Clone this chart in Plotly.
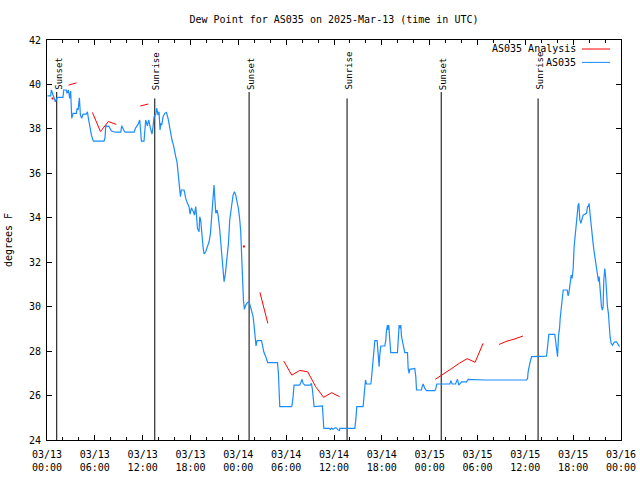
import pandas as pd
import plotly.graph_objects as go

BASE = pd.Timestamp("2025-03-13 00:00")

# ---- AS035 observed dew point (hours since 03/13 00:00 UTC, deg F)
blue_hours = [0.05,0.46,0.55,0.75,1.05,1.22,1.38,2.0,2.1,2.43,2.5,2.68,2.85,2.97,3.1,3.27,3.69,3.77,3.9,4.06,
 4.19,4.35,4.52,4.94,5.07,5.19,5.36,5.57,5.82,7.15,7.28,7.37,7.53,7.74,8.08,8.58,9.25,9.37,9.62,9.79,
 10.92,11.09,11.42,11.63,11.72,11.84,12.17,12.26,12.38,12.59,12.76,12.97,13.17,13.3,13.43,13.64,13.76,13.93,14.05,14.18,
 14.27,14.39,14.56,14.77,14.98,15.18,15.31,15.52,15.68,15.86,16.02,16.15,16.31,16.44,16.61,16.74,16.86,17.19,17.28,17.4,
 17.62,17.82,17.94,18.12,18.24,18.37,18.49,18.66,18.75,18.87,19.07,19.16,19.28,19.45,19.57,19.7,19.91,20.12,20.33,20.5,
 20.67,20.83,20.95,21.04,21.17,21.33,21.46,21.67,21.79,22.0,22.08,22.21,22.38,22.58,22.76,22.92,23.14,23.34,23.51,23.68,
 23.84,24.01,24.18,24.3,24.43,24.51,24.64,24.76,24.93,25.14,25.35,25.47,25.68,25.85,25.97,26.15,26.22,26.35,26.78,26.9,
 27.03,27.19,27.44,27.69,28.91,29.03,29.11,29.2,30.66,30.74,30.87,30.99,31.71,31.83,32.0,32.12,32.33,33.05,33.17,33.3,
 33.38,33.5,34.55,34.63,34.72,35.38,35.56,35.68,35.88,36.14,36.31,36.51,36.69,36.73,38.61,38.73,38.86,39.65,39.77,39.86,
 39.95,40.07,40.62,40.7,40.78,40.9,41.03,41.12,41.41,41.53,41.66,41.74,41.87,42.37,42.5,42.58,42.71,42.79,42.87,43.0,
 43.12,43.96,44.04,44.17,44.29,44.38,44.47,44.67,44.88,45.22,45.3,45.42,45.51,46.13,46.26,46.35,46.98,47.05,47.18,47.39,
 47.6,48.65,48.77,48.9,50.53,50.65,50.82,51.24,51.37,51.49,51.66,51.82,52.0,52.62,52.82,54.88,56.17,56.39,56.8,57.01,
 60.15,60.28,60.35,60.56,60.78,62.66,62.79,62.95,63.7,63.83,63.95,64.04,64.17,64.29,64.37,64.54,64.67,64.75,65.25,65.37,
 65.5,65.62,65.75,65.87,66.0,66.12,66.3,66.42,66.5,66.62,66.71,66.84,66.96,67.09,67.25,67.67,67.8,67.92,68.0,68.09,
 68.21,68.34,68.5,68.63,68.76,68.93,69.05,69.18,69.26,69.34,69.42,69.55,69.67,69.76,69.84,69.97,70.09,70.17,70.3,70.42,
 70.5,70.63,70.76,70.93,71.1,71.22,71.43,71.56,71.68,71.81]
blue_dew = [39.49,39.49,39.75,39.57,39.22,39.37,39.42,39.42,39.75,39.75,39.6,39.75,39.37,39.7,38.48,38.7,38.7,38.93,38.85,39.4,
 38.62,38.48,38.66,38.66,38.77,38.48,38.1,37.72,37.45,37.45,37.6,38.17,38.1,38.12,37.9,37.85,37.85,38.14,37.95,37.85,
 37.85,38.03,38.2,38.4,38.03,37.45,37.45,38.03,38.4,38.14,38.4,38.03,37.76,38.1,38.55,38.66,38.93,38.62,38.77,37.95,
 38.25,38.17,38.55,38.7,38.74,38.48,38.17,37.72,37.5,37.27,37.05,36.75,36.5,36.07,35.25,34.95,35.25,35.25,35.1,34.87,
 34.65,34.5,34.16,34.45,34.35,34.27,34.12,34.5,34.12,33.52,33.37,34.05,33.9,33.0,32.7,32.37,32.47,32.7,32.92,33.3,
 34.05,35.1,35.47,34.95,34.2,34.35,34.12,33.45,32.85,31.95,31.35,31.12,31.5,32.1,32.85,33.9,34.57,35.02,35.17,35.02,
 34.72,34.42,33.9,33.37,32.17,31.2,30.3,29.88,30.07,30.18,30.22,30.07,29.77,29.55,29.17,28.5,28.23,28.47,28.46,28.47,
 28.27,27.97,27.75,27.48,27.48,27.0,26.25,25.5,25.5,25.57,25.95,26.47,26.47,26.55,26.73,26.55,26.47,26.47,26.55,26.25,
 25.95,25.5,25.53,24.97,24.52,24.52,24.48,24.54,24.48,24.55,24.54,24.45,24.43,24.52,24.52,24.9,25.5,25.5,26.02,26.43,
 26.7,26.52,26.52,26.77,27.15,27.82,28.23,28.47,28.47,27.82,27.3,27.82,28.23,28.23,28.5,28.92,29.17,28.95,29.17,28.5,
 27.93,27.93,28.65,29.17,29.02,29.17,28.65,28.27,27.93,27.93,27.22,27.0,27.18,27.22,26.85,26.25,26.25,26.4,26.52,26.32,
 26.22,26.22,26.32,26.52,26.52,26.67,26.52,26.52,26.67,26.73,26.47,26.55,26.62,26.62,26.73,26.7,26.7,26.73,26.73,26.7,
 26.7,26.77,27.07,27.45,27.75,27.77,28.2,28.75,28.75,28.42,27.97,27.75,28.72,29.02,29.47,30.0,30.52,30.75,30.75,30.48,
 30.7,31.2,31.42,31.27,31.72,32.7,33.45,33.97,34.32,34.57,34.65,33.9,33.75,33.97,34.12,34.2,34.5,34.52,34.65,34.27,
 33.75,33.37,32.85,32.47,32.17,31.8,31.35,31.12,31.35,30.9,30.45,30.0,29.85,30.0,31.2,31.72,31.27,30.6,30.0,29.7,
 29.1,28.65,28.35,28.27,28.37,28.42,28.42,28.35,28.27,28.2]

# ---- AS035 Analysis (hourly, None = missing)
red_hours = [h + 0.7 for h in range(60)]
red_dew = [39.37,None,39.97,40.07,None,38.74,37.88,38.33,38.2,None,
 None,39.03,39.12,None,None,None,None,None,None,None,
 None,None,None,None,32.71,None,30.65,29.25,None,27.55,
 26.92,27.13,27.07,26.4,25.92,26.13,25.95,None,None,None,
 None,None,None,None,None,None,None,None,26.73,26.95,
 27.2,27.45,27.66,27.5,28.35,None,28.3,28.45,28.55,28.68]

# ---- Sun events
event_hours = [1.22, 13.52, 25.35, 37.64, 49.45, 61.6]
event_labels = ["Sunset", "Sunrise", "Sunset", "Sunrise", "Sunset", "Sunrise"]
event_top = {"Sunset": 39.66, "Sunrise": 39.37}
label_base = 39.66

# ---- axes
y_ticks = [24, 26, 28, 30, 32, 34, 36, 38, 40, 42]
x_tick_hours = [0, 6, 12, 18, 24, 30, 36, 42, 48, 54, 60, 66, 72]
x_tick_labels = ["03/13<br>00:00", "03/13<br>06:00", "03/13<br>12:00", "03/13<br>18:00",
                 "03/14<br>00:00", "03/14<br>06:00", "03/14<br>12:00", "03/14<br>18:00",
                 "03/15<br>00:00", "03/15<br>06:00", "03/15<br>12:00", "03/15<br>18:00",
                 "03/16<br>00:00"]

def t(hours):
    return [BASE + pd.Timedelta(hours=h) for h in hours]

FONT = "DejaVu Sans Mono"
RED = "#ff0000"
BLUE = "#1a8cff"

fig = go.Figure()

# vertical sun lines
for h, lab in zip(event_hours, event_labels):
    fig.add_trace(go.Scatter(x=t([h, h]), y=[24, event_top[lab]], mode="lines",
                             line=dict(color="black", width=1), showlegend=False, hoverinfo="skip"))
    fig.add_annotation(x=t([h])[0], y=label_base, xref="x", yref="y", text=lab, textangle=-90,
                       showarrow=False, xanchor="center", yanchor="bottom",
                       font=dict(family=FONT, size=9, color="black"), xshift=1.5, yshift=0)

fig.add_trace(go.Scatter(x=t(red_hours), y=red_dew, mode="lines", name="AS035 Analysis",
                         line=dict(color=RED, width=1), connectgaps=False))
iso_h, iso_v = [], []
for i, v in enumerate(red_dew):
    prev_none = i == 0 or red_dew[i - 1] is None
    next_none = i == len(red_dew) - 1 or red_dew[i + 1] is None
    if v is not None and prev_none and next_none:
        iso_h.append(red_hours[i]); iso_v.append(v)
fig.add_trace(go.Scatter(x=t(iso_h), y=iso_v, mode="markers", showlegend=False,
                         marker=dict(color=RED, size=2, symbol="square", line=dict(width=0))))

fig.add_trace(go.Scatter(x=t(blue_hours), y=blue_dew, mode="lines", name="AS035",
                         line=dict(color=BLUE, width=1.2)))

# legend (gnuplot style: text then sample line at right)
for i, (name, col) in enumerate([("AS035 Analysis", RED), ("AS035", BLUE)]):
    yp = 0.9775 - i * 0.0335
    fig.add_annotation(xref="paper", yref="paper", x=0.925, y=yp, text=name, showarrow=False,
                       xanchor="right", yanchor="middle", font=dict(family=FONT, size=10, color="black"))
    fig.add_shape(type="line", xref="paper", yref="paper", x0=0.932, x1=0.981, y0=yp, y1=yp,
                  line=dict(color=col, width=1))

fig.update_layout(
    width=640, height=480,
    margin=dict(l=47, r=19, t=40, b=40, autoexpand=False),
    paper_bgcolor="white", plot_bgcolor="white",
    showlegend=False,
    font=dict(family=FONT, size=10, color="black"),
    title=dict(text="Dew Point for AS035 on 2025-Mar-13 (time in UTC)", x=0.5, xref="paper",
               y=1 - 19 / 480, yanchor="middle", font=dict(family=FONT, size=10, color="black")),
)
fig.update_xaxes(range=[BASE, BASE + pd.Timedelta(hours=72)], tickmode="array",
                 tickvals=t(x_tick_hours), ticktext=x_tick_labels, automargin=False,
                 ticks="inside", ticklen=5, tickcolor="black", ticklabelstandoff=5,
                 minor=dict(ticks="inside", ticklen=3, dtick=2 * 3600 * 1000, tick0=BASE, tickcolor="black"),
                 showline=True, linecolor="black", linewidth=1, mirror="ticks",
                 showgrid=False, zeroline=False, tickfont=dict(family=FONT, size=10))
fig.update_yaxes(range=[24, 42], tickmode="array", tickvals=y_ticks, automargin=False,
                 ticks="inside", ticklen=5, tickcolor="black", ticklabelstandoff=3,
                 showline=True, linecolor="black", linewidth=1, mirror="ticks",
                 showgrid=False, zeroline=False, tickfont=dict(family=FONT, size=10),
                 title=dict(text="degrees F", font=dict(family=FONT, size=10), standoff=14))

fig.write_html("out.html", post_script="document.body.style.margin='0';",
               config={"displayModeBar": False})
